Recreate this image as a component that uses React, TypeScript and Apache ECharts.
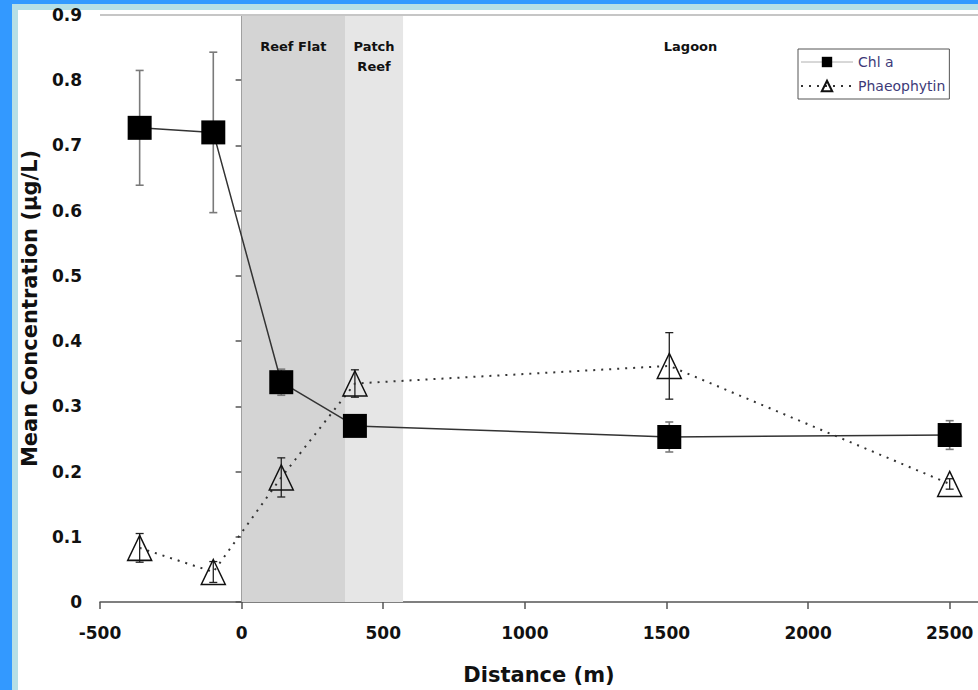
import React, { useEffect, useRef } from "react";
import * as echarts from "echarts";

const distances = [-360, -100, 140, 400, 1510, 2500];
const chlA = [0.727, 0.72, 0.337, 0.27, 0.253, 0.256];
const chlAErr = [0.088, 0.123, 0.02, 0.01, 0.023, 0.022];
const phaeo = [0.083, 0.046, 0.191, 0.335, 0.362, 0.181];
const phaeoErr = [0.022, 0.016, 0.03, 0.021, 0.051, 0.008];
const zones = [
  { name: "Reef Flat", from: 0, to: 365, color: "#d4d4d4" },
  { name: "Patch\nReef", from: 365, to: 570, color: "#e6e6e6" },
  { name: "Lagoon", from: 570, to: 2600, color: "rgba(255,255,255,0)" },
];

const FONT = "DejaVu Sans";

function errorRenderer(color: string, width: number) {
  return (params: any, api: any) => {
    const x = api.value(0);
    const y = api.value(1);
    const e = api.value(2);
    const top = api.coord([x, y + e]);
    const bot = api.coord([x, y - e]);
    const hw = 4;
    const style = { stroke: color, lineWidth: width };
    return {
      type: "group",
      children: [
        { type: "line", shape: { x1: top[0], y1: top[1], x2: bot[0], y2: bot[1] }, style },
        { type: "line", shape: { x1: top[0] - hw, y1: top[1], x2: top[0] + hw, y2: top[1] }, style },
        { type: "line", shape: { x1: bot[0] - hw, y1: bot[1], x2: bot[0] + hw, y2: bot[1] }, style },
      ],
    };
  };
}

export default function App() {
  const ref = useRef<HTMLDivElement>(null);
  useEffect(() => {
    if (!ref.current) return;
    const chart = echarts.init(ref.current, null, { renderer: "svg" });
    chart.setOption({
      animation: false,
      backgroundColor: "#ffffff",
      graphic: [
        { type: "rect", z: -10, shape: { x: 0, y: 0, width: 12, height: 690 }, style: { fill: "#3399ff" } },
        { type: "rect", z: -10, shape: { x: 0, y: 0, width: 978, height: 4 }, style: { fill: "#3399ff" } },
        { type: "rect", z: -10, shape: { x: 12, y: 4, width: 966, height: 6 }, style: { fill: "#b6dfe6" } },
        { type: "rect", z: -10, shape: { x: 12, y: 4, width: 6, height: 686 }, style: { fill: "#b6dfe6" } },
      ],
      grid: { left: 100, right: 0, top: 15, bottom: 84, containLabel: false },
      legend: {
        orient: "vertical",
        left: 798,
        top: 49,
        data: [
          { name: "Chl a", lineStyle: { color: "#b0b0b0", width: 1 } },
          { name: "Phaeophytin" },
        ],
        backgroundColor: "#ffffff",
        borderColor: "#555",
        borderWidth: 1,
        padding: [6, 4, 6, 2],
        itemWidth: 52,
        itemHeight: 13,
        itemGap: 10,
        textStyle: { fontFamily: FONT, fontSize: 14, color: "#3d3a78" },
      },
      xAxis: {
        type: "value",
        min: -500,
        max: 2600,
        interval: 500,
        name: "Distance (m)",
        nameLocation: "middle",
        nameGap: 62,
        nameTextStyle: { fontFamily: FONT, fontWeight: "bold", fontSize: 21, color: "#111" },
        axisLine: { show: true, onZero: false, lineStyle: { color: "#555", width: 1.5 } },
        axisTick: { show: true, length: 7, lineStyle: { color: "#555", width: 1.5 } },
        axisLabel: {
          fontFamily: FONT,
          fontWeight: "bold",
          fontSize: 17,
          color: "#111",
          margin: 22,
          showMaxLabel: false,
          formatter: (v: number) => String(v),
        },
        splitLine: { show: false },
      },
      yAxis: {
        type: "value",
        min: 0,
        max: 0.9,
        interval: 0.1,
        name: "Mean Concentration (µg/L)",
        nameLocation: "middle",
        nameGap: 59,
        nameTextStyle: { fontFamily: FONT, fontWeight: "bold", fontSize: 21, color: "#111" },
        axisLine: { show: true, lineStyle: { color: "#555", width: 1.5 } },
        axisTick: { show: true, length: 6, lineStyle: { color: "#555", width: 1.5 } },
        axisLabel: {
          fontFamily: FONT,
          fontWeight: "bold",
          fontSize: 17,
          color: "#111",
          margin: 18,
          formatter: (v: number) => (v === 0 ? "0" : v.toFixed(1)),
        },
        splitLine: { show: false },
      },
      series: [
        {
          name: "zones",
          type: "line",
          data: [],
          silent: true,
          z: 0,
          markArea: {
            silent: true,
            data: zones.map((zn) => [
              {
                xAxis: zn.from,
                name: zn.name,
                itemStyle: { color: zn.color },
              },
              { xAxis: zn.to },
            ]),
            label: {
              show: true,
              position: "insideTop",
              distance: 21,
              fontFamily: FONT,
              fontWeight: "bold",
              fontSize: 13,
              lineHeight: 20,
              color: "#111",
            },
          },
          markLine: {
            silent: true,
            symbol: "none",
            label: { show: false },
            lineStyle: { color: "#c6c6c6", width: 2, type: "solid" },
            data: [{ yAxis: 0.9 }],
          },
        },
        {
          name: "Chl a err",
          type: "custom",
          z: 1,
          renderItem: errorRenderer("#7a7a7a", 1.6),
          data: distances.map((d, i) => [d, chlA[i], chlAErr[i]]),
        },
        {
          name: "Phaeophytin err",
          type: "custom",
          z: 1,
          renderItem: errorRenderer("#222", 1.3),
          data: distances.map((d, i) => [d, phaeo[i], phaeoErr[i]]),
        },
        {
          name: "Chl a",
          type: "line",
          z: 3,
          data: distances.map((d, i) => [d, chlA[i]]),
          symbol: "rect",
          symbolSize: 24,
          itemStyle: { color: "#000" },
          lineStyle: { color: "#333", width: 1.5 },
        },
        {
          name: "Phaeophytin",
          type: "line",
          z: 2,
          data: distances.map((d, i) => [d, phaeo[i]]),
          symbol: "triangle",
          symbolSize: [24, 25],
          itemStyle: { color: "rgba(255,255,255,0)", borderColor: "#111", borderWidth: 1.5 },
          lineStyle: { color: "#333", width: 2, type: [2, 6] },
        },
      ],
    });
    return () => chart.dispose();
  }, []);
  return (
    <div
      ref={ref}
      style={{ position: "fixed", left: 0, top: 0, width: 978, height: 690 }}
    />
  );
}
